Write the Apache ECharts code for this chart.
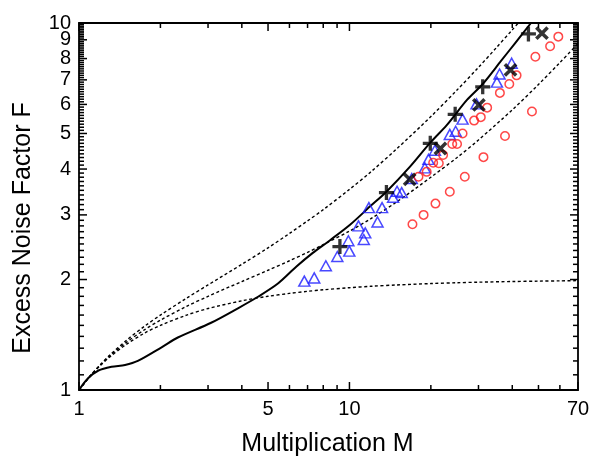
<!DOCTYPE html>
<html>
<head>
<meta charset="utf-8">
<script src="https://cdn.jsdelivr.net/npm/echarts@6/dist/echarts.min.js"></script>
<style>
  html, body { margin: 0; padding: 0; background: #fff; }
  #chart { width: 590px; height: 457px; }
</style>
</head>
<body>
<div id="chart"></div>
<script>
// Excess noise factor F versus multiplication M (log-log)

// Model curve (solid)
const modelCurve = [
  [1, 1], [1.08, 1.076], [1.18, 1.13], [1.32, 1.157], [1.48, 1.17], [1.65, 1.2],
  [2.02, 1.307], [2.32, 1.39], [3.08, 1.525], [3.87, 1.67], [4.59, 1.795],
  [5.44, 1.95], [6.37, 2.17], [7.3, 2.36], [8.48, 2.56], [10.05, 2.82],
  [11.9, 3.16], [13.7, 3.47], [16.75, 4.06], [19.9, 4.72], [22.9, 5.27],
  [27.2, 6.17], [31.1, 6.82], [36.1, 7.83], [41, 8.82], [46.9, 10]
];

// Local-model curves (dotted), k = 0, 0.1, 0.2
const localK0 = [
  [1, 1], [1.1, 1.09], [1.2, 1.167], [1.3, 1.23], [1.5, 1.333], [1.75, 1.43],
  [2, 1.5], [2.5, 1.6], [3, 1.667], [4, 1.75], [5, 1.8], [6, 1.833], [7, 1.857],
  [8, 1.875], [10, 1.9], [12, 1.917], [15, 1.933], [20, 1.95], [25, 1.96],
  [30, 1.967], [40, 1.975], [50, 1.98], [60, 1.983], [70, 1.986]
];
const localK01 = [
  [1, 1], [1.1, 1.092], [1.2, 1.17], [1.3, 1.238], [1.5, 1.35], [1.75, 1.461],
  [2, 1.55], [2.5, 1.69], [3, 1.8], [4, 1.975], [5, 2.12], [6, 2.25], [7, 2.37],
  [8, 2.49], [10, 2.71], [12, 2.93], [15, 3.26], [20, 3.8], [25, 4.3], [30, 4.8],
  [40, 5.8], [50, 6.8], [60, 7.8], [70, 8.79]
];
const localK02 = [
  [1, 1], [1.1, 1.093], [1.2, 1.173], [1.3, 1.245], [1.5, 1.367], [1.75, 1.493],
  [2, 1.6], [2.5, 1.78], [3, 1.933], [4, 2.2], [5, 2.44], [6, 2.67], [7, 2.89],
  [8, 3.1], [10, 3.52], [12, 3.93], [15, 4.55], [20, 5.56], [25, 6.57],
  [30, 7.57], [35, 8.58], [40, 9.58], [45, 10.58]
];

// Measured points
const plusPoints = [
  [9.22, 2.46], [13.7, 3.45], [19.9, 4.7], [24.6, 5.64], [31.1, 6.7], [45.9, 9.34]
];
const crossPoints = [
  [16.7, 3.75], [21.7, 4.55], [30.1, 5.98], [39.4, 7.45], [51.5, 9.38]
];
const trianglePoints = [
  [6.81, 1.98], [7.41, 2.02], [8.18, 2.18], [9.02, 2.31], [9.99, 2.39], [9.91, 2.55],
  [11.3, 2.57], [11.44, 2.68], [10.8, 2.8], [12.7, 2.87], [11.8, 3.14], [13.2, 3.14],
  [14.5, 3.35], [15.0, 3.48], [15.6, 3.45], [17.0, 3.77], [19.0, 4.03], [19.6, 4.25],
  [20.7, 4.5], [23.5, 4.97], [24.7, 5.07], [26.2, 5.47], [29.5, 6.02], [35.1, 6.9],
  [35.9, 7.26], [39.8, 7.77], [61, 10.3]
];
const circlePoints = [
  [17.1, 2.83], [18.8, 3.0], [20.8, 3.22], [23.5, 3.47], [26.7, 3.81], [31.3, 4.31],
  [37.6, 4.92], [47.3, 5.74], [18.0, 3.81], [19.3, 3.93], [20.4, 4.16], [21.4, 4.15],
  [22.2, 4.37], [24.0, 4.68], [25.0, 4.68], [26.2, 5.0], [28.9, 5.42], [30.6, 5.54],
  [32.3, 5.88], [36.0, 6.45], [39.0, 6.82], [41.5, 7.2], [48.7, 8.09], [55.2, 8.64],
  [59.2, 9.18]
];

// Axis ticks and labels
const xTickLabels = [1, 5, 10, 70];
const xMinorTicks = [2, 3, 4, 6, 7, 8, 9, 20, 30, 40, 50, 60];
const yTickLabels = [1, 2, 3, 4, 5, 6, 7, 8, 9, 10];

const xTitle = 'Multiplication M';
const yTitle = 'Excess Noise Factor F';

const X_MIN = 1, X_MAX = 70, Y_MIN = 1, Y_MAX = 10;
const FONT = '"Liberation Sans", Arial, sans-serif';
const TICK_W = 1.5;

// y minor ticks every 0.1 between the integer labels
const yMinorTicks = [];
for (let i = 1; i < 10; i++) {
  for (let j = 1; j < 10; j++) yMinorTicks.push(+(i + j / 10).toFixed(1));
}

const labelFont = '20px ' + FONT;

const xLabelSeries = {
  type: 'custom', silent: true, clip: false, z: 5,
  data: xTickLabels.map(v => [v, Y_MIN]),
  renderItem: (params, api) => {
    const v = api.value(0);
    const p = api.coord([v, Y_MIN]);
    return { type: 'text', x: p[0], y: p[1] + 9, style: {
      text: String(v), fill: '#000', font: labelFont,
      align: 'center', verticalAlign: 'top', textAlign: 'center', textVerticalAlign: 'top'
    } };
  }
};

const yLabelSeries = {
  type: 'custom', silent: true, clip: false, z: 5,
  data: yTickLabels.map(v => [X_MIN, v]),
  renderItem: (params, api) => {
    const v = api.value(1);
    const p = api.coord([X_MIN, v]);
    return { type: 'text', x: p[0] - 8, y: p[1], style: {
      text: String(v), fill: '#000', font: labelFont,
      align: 'right', verticalAlign: 'middle', textAlign: 'right', textVerticalAlign: 'middle'
    } };
  }
};

// Filled plus shape; the cross marker is the same shape rotated
const PLUS_PATH = 'path://M3.9,0H6.1V3.9H10V6.1H6.1V10H3.9V6.1H0V3.9H3.9Z';

function dottedLine(data) {
  return {
    type: 'line', data, showSymbol: false, symbol: 'none', smooth: 0.3, clip: true, z: 2,
    lineStyle: { color: '#000', width: 1.4, type: [3, 2.5] }
  };
}

const chart = echarts.init(document.getElementById('chart'));

chart.setOption({
  animation: false,
  grid: {
    left: 79, right: 12, top: 23, bottom: 67,
    show: true, borderColor: '#000', borderWidth: 1.8
  },
  xAxis: {
    type: 'log', logBase: 10, min: X_MIN, max: X_MAX,
    axisLine: { show: false }, axisTick: { show: false }, axisLabel: { show: false },
    splitLine: { show: false }
  },
  yAxis: {
    type: 'log', logBase: 10, min: Y_MIN, max: Y_MAX,
    axisLine: { show: false }, axisTick: { show: false }, axisLabel: { show: false },
    splitLine: { show: false }
  },
  series: [
    dottedLine(localK0),
    dottedLine(localK01),
    dottedLine(localK02),
    {
      type: 'line', data: modelCurve, showSymbol: false, symbol: 'none', smooth: 0.3, clip: true, z: 3,
      lineStyle: { color: '#000', width: 2 }
    },
    {
      type: 'scatter', data: trianglePoints, symbol: 'triangle', symbolSize: [11, 10], clip: true, z: 4,
      itemStyle: { color: 'rgba(0,0,0,0)', borderColor: '#1a1aff', borderWidth: 1.5 }
    },
    {
      type: 'scatter', data: circlePoints, symbol: 'circle', symbolSize: 8.5, clip: true, z: 4,
      itemStyle: { color: 'rgba(0,0,0,0)', borderColor: '#ff1a1a', borderWidth: 1.5 }
    },
    {
      type: 'scatter', data: plusPoints, symbol: PLUS_PATH, symbolSize: 15, clip: true, z: 6,
      itemStyle: { color: '#000' }
    },
    {
      type: 'scatter', data: crossPoints, symbol: PLUS_PATH, symbolSize: 16, symbolRotate: 45, clip: true, z: 6,
      itemStyle: { color: '#000' }
    },
    xLabelSeries,
    yLabelSeries
  ]
});

// Ticks on all four edges, placed through the axis scales
function toPx(x, y) {
  return chart.convertToPixel({ gridIndex: 0 }, [x, y]);
}
const graphics = [];
function tickRect(x, y, w, h) {
  graphics.push({ type: 'rect', shape: { x: x, y: y, width: w, height: h }, style: { fill: '#000' } });
}
function xTicks(values, len) {
  values.forEach(v => {
    const b = toPx(v, Y_MIN), t = toPx(v, Y_MAX);
    tickRect(b[0] - TICK_W / 2, b[1] - len, TICK_W, len);
    tickRect(t[0] - TICK_W / 2, t[1], TICK_W, len);
  });
}
function yTicks(values, len) {
  values.forEach(v => {
    const l = toPx(X_MIN, v), r = toPx(X_MAX, v);
    tickRect(l[0], l[1] - TICK_W / 2, len, TICK_W);
    tickRect(r[0] - len, r[1] - TICK_W / 2, len, TICK_W);
  });
}
xTicks(xMinorTicks, 5);
xTicks(xTickLabels, 8);
yTicks(yMinorTicks, 5);
yTicks(yTickLabels, 8);

// Axis titles
graphics.push({
  type: 'text', x: 327.5, y: 444,
  style: { text: xTitle, fill: '#000', font: '25px ' + FONT, align: 'center', verticalAlign: 'middle' }
});
graphics.push({
  type: 'text', x: 23, y: 228, rotation: Math.PI / 2,
  style: { text: yTitle, fill: '#000', font: '25px ' + FONT, align: 'center', verticalAlign: 'middle' }
});

chart.setOption({ graphic: graphics });
</script>
</body>
</html>
